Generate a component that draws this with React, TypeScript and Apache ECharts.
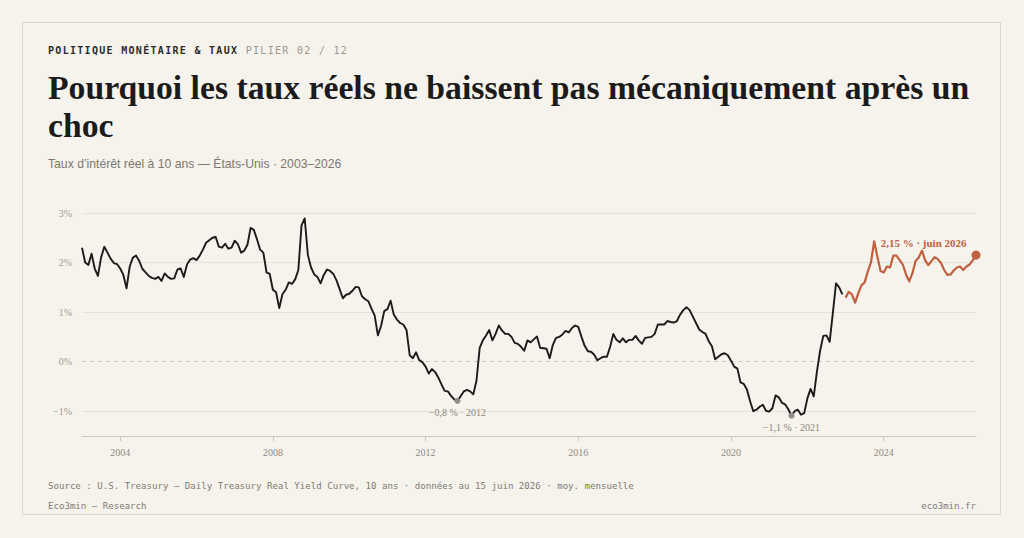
import React, { useEffect, useRef } from "react";
import * as echarts from "echarts";

// ---- Data -------------------------------------------------------------
const START_YEAR = 2003;
const YEAR_TICKS = ["2004", "2008", "2012", "2016", "2020", "2024"];
const Y_GRID = [-1, 1, 2, 3];

// Monthly 10-year real yield, Jan 2003 – Dec 2022 (history, black)
const historyValues = [
  2.30, 2.00, 1.95, 2.18, 1.88, 1.73, 2.10, 2.32, 2.20, 2.08, 1.99, 1.97,
  1.88, 1.75, 1.48, 1.92, 2.10, 2.14, 2.03, 1.87, 1.80, 1.73, 1.69, 1.67,
  1.71, 1.63, 1.78, 1.71, 1.67, 1.68, 1.86, 1.88, 1.71, 1.96, 2.06, 2.09,
  2.05, 2.14, 2.26, 2.40, 2.45, 2.50, 2.52, 2.32, 2.30, 2.38, 2.28, 2.30,
  2.44, 2.37, 2.20, 2.24, 2.36, 2.70, 2.66, 2.47, 2.26, 2.20, 1.80, 1.77,
  1.45, 1.40, 1.08, 1.36, 1.45, 1.60, 1.57, 1.66, 1.85, 2.75, 2.89, 2.15,
  1.90, 1.76, 1.71, 1.58, 1.75, 1.86, 1.83, 1.77, 1.64, 1.46, 1.28, 1.35,
  1.37, 1.43, 1.51, 1.50, 1.32, 1.26, 1.22, 1.07, 0.93, 0.53, 0.72, 1.02,
  1.06, 1.23, 0.95, 0.85, 0.78, 0.75, 0.64, 0.13, 0.07, 0.19, 0.03, -0.01,
  -0.10, -0.24, -0.15, -0.21, -0.32, -0.46, -0.59, -0.60, -0.69, -0.76, -0.79, -0.70,
  -0.60, -0.57, -0.60, -0.66, -0.38, 0.28, 0.43, 0.53, 0.64, 0.43, 0.56, 0.73,
  0.63, 0.56, 0.56, 0.50, 0.38, 0.36, 0.30, 0.22, 0.43, 0.39, 0.45, 0.51,
  0.28, 0.27, 0.26, 0.07, 0.34, 0.48, 0.50, 0.55, 0.62, 0.59, 0.68, 0.73,
  0.70, 0.50, 0.32, 0.21, 0.20, 0.14, 0.03, 0.07, 0.10, 0.10, 0.30, 0.56,
  0.44, 0.39, 0.47, 0.39, 0.44, 0.44, 0.52, 0.43, 0.36, 0.48, 0.49, 0.50,
  0.56, 0.75, 0.75, 0.75, 0.82, 0.80, 0.79, 0.82, 0.95, 1.04, 1.10, 1.04,
  0.91, 0.78, 0.65, 0.60, 0.56, 0.41, 0.31, 0.05, 0.10, 0.15, 0.17, 0.13,
  0.02, -0.10, -0.14, -0.42, -0.45, -0.56, -0.80, -1.00, -0.97, -0.91, -0.87, -0.99,
  -1.01, -0.94, -0.68, -0.72, -0.83, -0.86, -0.96, -1.09, -1.00, -0.97, -1.07, -1.04,
  -0.74, -0.55, -0.70, -0.20, 0.22, 0.52, 0.53, 0.40, 0.98, 1.58, 1.50, 1.36,
];

// Monthly 10-year real yield, Jan 2023 – Jun 2026 (recent, orange)
const recentValues = [
  1.29, 1.41, 1.36, 1.19, 1.38, 1.54, 1.60, 1.82, 2.01, 2.43, 2.12, 1.83,
  1.80, 1.92, 1.90, 2.14, 2.14, 2.05, 1.96, 1.76, 1.62, 1.78, 2.03, 2.10,
  2.24, 2.05, 1.95, 2.03, 2.11, 2.07, 1.99, 1.85, 1.75, 1.76, 1.84, 1.90,
  1.92, 1.85, 1.92, 1.96, 2.05, 2.15,
];

const lowPoints = [
  { index: 118, label: "−0,8 % · 2012" },
  { index: 223, label: "−1,1 % · 2021" },
];
const lastLabel = "2,15 % · juin 2026";

// ---- Style ------------------------------------------------------------
const BG = "#f6f3ec";
const INK = "#1b1b1b";
const ORANGE = "#c0603e";
const SERIF = "'Liberation Serif', 'DejaVu Serif', serif";
const SANS = "'Liberation Sans', Arial, sans-serif";
const MONO = "'DejaVu Sans Mono', 'Liberation Mono', monospace";

const totalMonths = historyValues.length + recentValues.length;
const months: string[] = [];
for (let k = 0; k < totalMonths; k++) {
  const y = START_YEAR + Math.floor(k / 12);
  const m = (k % 12) + 1;
  months.push(`${y}-${m < 10 ? "0" + m : m}`);
}
const isYearTick = (v: string) => v.endsWith("-01") && YEAR_TICKS.includes(v.slice(0, 4));

function Chart() {
  const ref = useRef<HTMLDivElement>(null);
  useEffect(() => {
    if (!ref.current) return;
    const chart = echarts.init(ref.current, null, { renderer: "svg" });
    const recentData = new Array(historyValues.length).fill(null).concat(recentValues);
    const lastIdx = totalMonths - 1;
    chart.setOption({
      animation: false,
      backgroundColor: "transparent",
      grid: { left: 82, right: 48, top: 213, bottom: 102 },
      xAxis: {
        type: "category",
        data: months,
        boundaryGap: false,
        axisLine: { onZero: false, lineStyle: { color: "#cbc7be", width: 1 } },
        axisTick: {
          length: 5,
          lineStyle: { color: "#cbc7be" },
          interval: (_i: number, v: string) => isYearTick(v),
        },
        axisLabel: {
          interval: (_i: number, v: string) => isYearTick(v),
          formatter: (v: string) => v.slice(0, 4),
          color: "#8d8a84",
          fontFamily: SERIF,
          fontSize: 10,
          margin: 11,
        },
        splitLine: { show: false },
      },
      yAxis: {
        type: "value",
        min: -1.5,
        max: 3,
        interval: 0.5,
        axisLine: { show: false },
        axisTick: { show: false },
        splitLine: { show: false },
        axisLabel: {
          color: "#a09d96",
          fontFamily: SERIF,
          fontSize: 10,
          margin: 10,
          formatter: (v: number) =>
            Number.isInteger(v) ? (v < 0 ? "−" + Math.abs(v) : String(v)) + "%" : "",
        },
      },
      series: [
        {
          type: "line",
          name: "grid",
          data: [],
          silent: true,
          z: 1,
          markLine: {
            silent: true,
            z: 1,
            symbol: ["none", "none"],
            label: { show: false },
            data: [
              ...Y_GRID.map((y) => ({
                yAxis: y,
                lineStyle: { color: "#e6e2da", width: 1, type: "solid" },
              })),
              { yAxis: 0, lineStyle: { color: "#cdc9c0", width: 1, type: [4, 4] } },
            ],
          },
        },
        {
          type: "line",
          name: "history",
          data: historyValues,
          showSymbol: false,
          symbol: "none",
          z: 3,
          lineStyle: { color: INK, width: 1.9, join: "round" },
          markPoint: {
            z: 4,
            symbol: "circle",
            symbolSize: 6,
            itemStyle: { color: "#8e8c88" },
            label: {
              position: "bottom",
              distance: 4,
              color: "#8a8780",
              fontFamily: SERIF,
              fontSize: 10,
            },
            data: lowPoints.map((p) => ({
              coord: [months[p.index], historyValues[p.index]],
              label: { formatter: p.label },
            })),
          },
        },
        {
          type: "line",
          name: "recent",
          data: recentData,
          showSymbol: false,
          symbol: "none",
          z: 3,
          lineStyle: { color: ORANGE, width: 2.2, join: "round" },
          markPoint: {
            z: 4,
            symbol: "circle",
            symbolSize: 9,
            itemStyle: { color: ORANGE },
            label: {
              position: "left",
              distance: 5,
              offset: [0, -12],
              color: ORANGE,
              fontFamily: SERIF,
              fontSize: 11,
              fontWeight: "bold",
              formatter: lastLabel,
            },
            data: [{ coord: [months[lastIdx], recentValues[recentValues.length - 1]] }],
          },
        },
      ],
    });
    return () => chart.dispose();
  }, []);
  return (
    <div
      ref={ref}
      style={{ position: "absolute", left: 0, top: 0, width: 1024, height: 538 }}
    />
  );
}

export default function App() {
  useEffect(() => {
    document.body.style.margin = "0";
    document.body.style.background = BG;
  }, []);
  return (
    <div
      style={{
        position: "fixed",
        left: 0,
        top: 0,
        width: 1024,
        height: 538,
        background: BG,
        overflow: "hidden",
      }}
    >
      <div
        style={{
          position: "absolute",
          left: 22,
          top: 22,
          width: 977,
          height: 491,
          border: "1px solid #dcd8ce",
          background: BG,
        }}
      />
      <Chart />
      <div
        style={{
          position: "absolute",
          left: 48,
          top: 45,
          fontFamily: MONO,
          fontSize: 10,
          lineHeight: "12px",
          letterSpacing: "1.3px",
          whiteSpace: "nowrap",
        }}
      >
        <span style={{ color: "#2b2b2b", fontWeight: 700 }}>POLITIQUE MONÉTAIRE &amp; TAUX</span>{" "}
        <span style={{ color: "#9b9891" }}>PILIER 02 / 12</span>
      </div>
      <div
        style={{
          position: "absolute",
          left: 48,
          top: 69,
          width: 935,
          fontFamily: SERIF,
          fontWeight: 700,
          fontSize: 33.7,
          lineHeight: "37.5px",
          color: INK,
        }}
      >
        Pourquoi les taux réels ne baissent pas mécaniquement après un choc
      </div>
      <div
        style={{
          position: "absolute",
          left: 48,
          top: 156,
          fontFamily: SANS,
          fontSize: 12.2,
          lineHeight: "16px",
          color: "#7b7873",
          whiteSpace: "nowrap",
        }}
      >
        Taux d’intérêt réel à 10 ans — États-Unis · 2003–2026
      </div>
      <div
        style={{
          position: "absolute",
          left: 48,
          top: 480,
          fontFamily: MONO,
          fontSize: 9.1,
          lineHeight: "12px",
          color: "#7d7a74",
          whiteSpace: "nowrap",
        }}
      >
        Source : U.S. Treasury — Daily Treasury Real Yield Curve, 10 ans · données au 15 juin 2026 · moy. mensuelle
      </div>
      <div
        style={{
          position: "absolute",
          left: 48,
          top: 500,
          fontFamily: MONO,
          fontSize: 9.1,
          lineHeight: "12px",
          color: "#7d7a74",
          whiteSpace: "nowrap",
        }}
      >
        Eco3min — Research
      </div>
      <div
        style={{
          position: "absolute",
          right: 48,
          top: 500,
          fontFamily: MONO,
          fontSize: 9.1,
          lineHeight: "12px",
          color: "#7d7a74",
          whiteSpace: "nowrap",
        }}
      >
        eco3min.fr
      </div>
    </div>
  );
}
